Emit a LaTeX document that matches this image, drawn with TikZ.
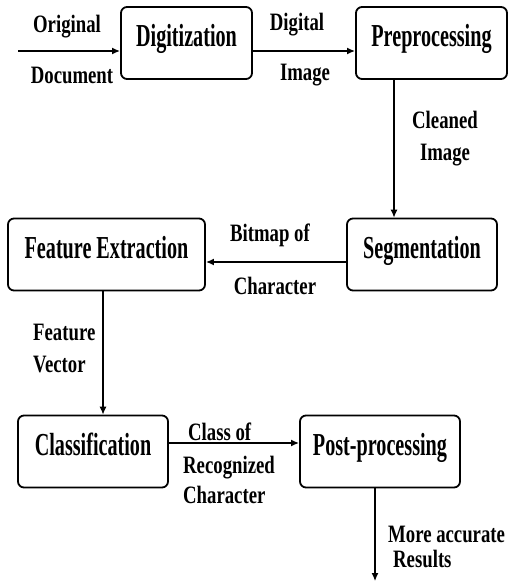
\documentclass[tikz,border=0pt]{standalone}
\usepackage{fontspec}
\newfontfamily\boxfont[FakeStretch=0.63]{Liberation Serif}
\newfontfamily\notefont[FakeStretch=0.75]{Liberation Serif}
\usetikzlibrary{arrows.meta}
\tikzset{
  box/.style={draw, line width=1.8pt, rounded corners=6pt, inner sep=0pt,
    text height=24pt, text depth=16.6pt, minimum height=72pt,
    font=\boxfont\bfseries\fontsize{32}{36}\selectfont},
  note/.style={inner sep=0pt, font=\notefont\bfseries\fontsize{25}{32}\selectfont},
  flow/.style={-{Latex[length=8pt,width=7pt]}, line width=1.8pt},
  thin flow/.style={line width=1.2pt}
}
\begin{document}
\begin{tikzpicture}[x=1pt,y=-1pt]
      \useasboundingbox (0,0) rectangle (509,585);
      \draw
        (186.5,43) node[box,minimum width=131pt] (dig){Digitization}
        (431.5,43) node[box,minimum width=151pt] (pre){Preprocessing}
        (422,254.5) node[box,minimum width=150pt] (seg){Segmentation}
        (106.5,254.5) node[box,minimum width=197pt] (fex){Feature Extraction}
        (93,451.5) node[box,minimum width=150pt] (cls){Classification}
        (380,451.5) node[box,minimum width=160pt] (post){Post-processing};
      \coordinate (in) at (18,51);
      \coordinate (out) at (375,581);
      \draw
        (67,27) node[note] (orig){Original}
        (72,75) node[note] (doc){Document}
        (297,25) node[note] (digi){Digital}
        (305,75) node[note] (img){Image}
        (445,139) node[note,align=center] (clean){Cleaned\\Image}
        (270,235) node[note] (bmp){Bitmap of}
        (275,286) node[note] (chr){Character}
        (33,349) node[note,anchor=west,align=left] (fvec){Feature\\Vector}
        (188,432) node[note,anchor=west] (cof){Class of}
        (183,480) node[note,anchor=west,align=left,font=\notefont\bfseries\fontsize{25}{30}\selectfont] (rec){Recognized\\Character}
        (388,547) node[note,anchor=west,align=left,font=\notefont\bfseries\fontsize{25}{25}\selectfont] (res){More accurate\\\hspace{5pt}Results};
      \begin{scope}[flow]
        \draw (in) to (in -| dig.west);
        \draw ([yshift=-8pt]dig.east) to ([yshift=-8pt]pre.west);
        \draw[thin flow] ([xshift=-37.5pt]pre.south) to ([xshift=-37.5pt]pre.south |- seg.north);
        \draw ([yshift=-7.5pt]seg.west) to ([yshift=-7.5pt]fex.east);
        \draw[thin flow] ([xshift=-3.5pt]fex.south) to ([xshift=-3.5pt]fex.south |- cls.north);
        \draw ([yshift=8.5pt]cls.east) to ([yshift=8.5pt]post.west);
        \draw[thin flow] ([xshift=-5pt]post.south) to (out);
      \end{scope}
    \end{tikzpicture}
\end{document}
